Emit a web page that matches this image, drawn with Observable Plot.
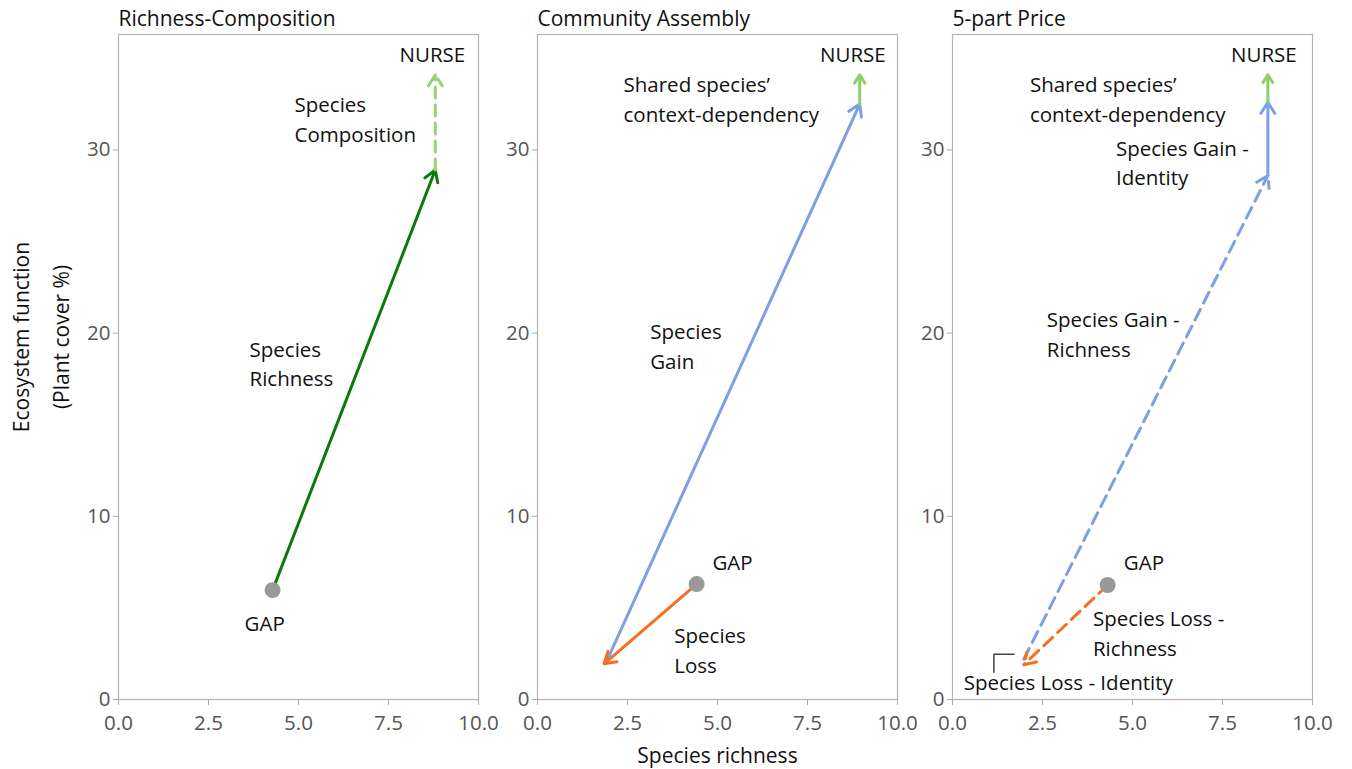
<!DOCTYPE html>
<html>
<head>
<meta charset="utf-8">
<script src="https://cdn.jsdelivr.net/npm/d3@7"></script>
<script src="https://cdn.jsdelivr.net/npm/@observablehq/plot@0.6"></script>
<style>
  body { margin: 0; background: white; }
  #wrap { position: relative; width: 1352px; height: 769px; overflow: hidden; background: white; }
  #wrap svg { position: absolute; top: 0; }
</style>
</head>
<body>
<div id="wrap"></div>
<script>
// ---- data ----
const panelTitles = ["Richness-Composition", "Community Assembly", "5-part Price"];
const xTicks = [0, 2.5, 5, 7.5, 10];
const yTicks = [0, 10, 20, 30];
const gapPoints = [
  {panel: 0, x: 4.28, y: 5.97},
  {panel: 1, x: 4.42, y: 6.3},
  {panel: 2, x: 4.31, y: 6.25}
];
// arrows: component vectors from GAP to NURSE
const arrows1 = [
  {x1: 4.28, y1: 5.97, x2: 8.8, y2: 28.9, comp: "richness"},
  {x1: 8.8, y1: 28.9, x2: 8.8, y2: 34.1, comp: "composition"}
];
const arrows2 = [
  {x1: 1.9, y1: 2.0, x2: 8.95, y2: 32.5, comp: "gain"},
  {x1: 4.42, y1: 6.3, x2: 1.85, y2: 1.95, comp: "loss"},
  {x1: 8.95, y1: 32.5, x2: 8.95, y2: 34.1, comp: "context"}
];
const arrows3 = [
  {x1: 1.98, y1: 2.2, x2: 8.76, y2: 28.6, comp: "gainRichness"},
  {x1: 8.76, y1: 28.6, x2: 8.76, y2: 32.6, comp: "gainIdentity"},
  {x1: 8.76, y1: 32.6, x2: 8.76, y2: 34.1, comp: "context"},
  {x1: 4.31, y1: 6.25, x2: 1.98, y2: 1.9, comp: "lossRichness"}
];
const leader3 = [{x: 1.15, y: 1.49}, {x: 1.15, y: 2.47}, {x: 1.71, y: 2.47}];
const labels1 = [
  {x: 8.72, y: 35.3, text: "NURSE", anchor: "middle"},
  {x: 4.89, y: 31.76, text: "Species\nComposition", anchor: "start"},
  {x: 3.64, y: 18.42, text: "Species\nRichness", anchor: "start"},
  {x: 4.06, y: 4.28, text: "GAP", anchor: "middle"}
];
const labels2 = [
  {x: 8.76, y: 35.3, text: "NURSE", anchor: "middle"},
  {x: 2.39, y: 32.87, text: "Shared species’\ncontext-dependency", anchor: "start"},
  {x: 3.13, y: 19.38, text: "Species\nGain", anchor: "start"},
  {x: 4.86, y: 7.61, text: "GAP", anchor: "start"},
  {x: 3.80, y: 2.77, text: "Species\nLoss", anchor: "start"}
];
const labels3 = [
  {x: 8.65, y: 35.3, text: "NURSE", anchor: "middle"},
  {x: 2.15, y: 32.87, text: "Shared species’\ncontext-dependency", anchor: "start"},
  {x: 4.54, y: 29.4, text: "Species Gain -\nIdentity", anchor: "start"},
  {x: 2.62, y: 20.03, text: "Species Gain -\nRichness", anchor: "start"},
  {x: 4.76, y: 7.61, text: "GAP", anchor: "start"},
  {x: 3.9, y: 3.70, text: "Species Loss -\nRichness", anchor: "start"},
  {x: 0.31, y: 1.05, text: "Species Loss - Identity", anchor: "start"}
];

// ---- styles ----
const compStyle = {
  richness: {stroke: "#0b7a0b", dash: null},
  composition: {stroke: "#96d375", dash: "11,7"},
  gain: {stroke: "#7da0e3", dash: null},
  loss: {stroke: "#f47020", dash: null},
  context: {stroke: "#8ccf6a", dash: null},
  gainRichness: {stroke: "#7da0e3", dash: "12,7"},
  gainIdentity: {stroke: "#7da0e3", dash: null},
  lossRichness: {stroke: "#f47020", dash: "12,7"}
};
const FONT = "'Open Sans', sans-serif";
const frameLefts = [118, 537, 952];
const plotW = 360;

function panel(i, arrows, labels, extra) {
  const mL = i === 0 ? 118 : 60;
  const mR = 30;
  const marks = [
    Plot.frame({stroke: "#b4b4b4", strokeWidth: 1.2}),
    Plot.axisX(xTicks, {tickSize: 6, tickFormat: () => "", stroke: "#aaa", label: null}),
    Plot.axisY(yTicks, {tickSize: 5, tickFormat: () => "", stroke: "#aaa", label: null}),
    Plot.text(xTicks, {x: d => d, frameAnchor: "bottom", text: d3.format(".1f"), dy: 24, fontSize: 20.5, fill: "#555", lineAnchor: "middle"}),
    Plot.text(yTicks, {y: d => d, frameAnchor: "left", text: d => String(d), dx: -8, fontSize: 20.5, fill: "#555", textAnchor: "end", lineAnchor: "middle"}),
    Plot.text([panelTitles[i]], {frameAnchor: "top-left", text: d => d, dy: -15, fontSize: 21, fill: "#111", textAnchor: "start", lineAnchor: "middle"})
  ];
  for (const a of arrows) {
    const s = compStyle[a.comp];
    marks.push(Plot.arrow([a], {x1: "x1", y1: "y1", x2: "x2", y2: "y2", stroke: s.stroke, strokeWidth: 3, headLength: 6.5, headAngle: 64, strokeDasharray: s.dash || undefined}));
  }
  if (extra) marks.push(...extra);
  marks.push(Plot.dot(gapPoints.filter(d => d.panel === i), {x: "x", y: "y", r: 8, fill: "#999", stroke: "none"}));
  for (const l of labels) {
    marks.push(Plot.text([l], {x: "x", y: "y", text: "text", textAnchor: l.anchor, lineAnchor: "middle", lineHeight: 1.45, fontSize: 20.5, fill: "#111"}));
  }
  if (i === 0) {
    marks.push(Plot.text(["Ecosystem function\n(Plant cover %)"], {frameAnchor: "left", text: d => d, rotate: -90, textAnchor: "middle", dx: -82, dy: -30, lineHeight: 1.9, fontSize: 21, fill: "#111", lineAnchor: "middle"}));
  }
  if (i === 1) {
    marks.push(Plot.text(["Species richness"], {frameAnchor: "bottom", text: d => d, dy: 57, fontSize: 21, fill: "#111", lineAnchor: "middle"}));
  }
  const svg = Plot.plot({
    width: mL + plotW + mR,
    height: 740,
    marginLeft: mL,
    marginRight: mR,
    marginTop: 34,
    marginBottom: 41,
    x: {domain: [0, 10]},
    y: {domain: [0, 36.3]},
    style: {fontFamily: FONT, background: "transparent", overflow: "visible"},
    marks
  });
  svg.style.left = (frameLefts[i] - mL) + "px";
  document.getElementById("wrap").appendChild(svg);
}

panel(0, arrows1, labels1);
panel(1, arrows2, labels2);
panel(2, arrows3, labels3, [Plot.line(leader3, {x: "x", y: "y", stroke: "#444", strokeWidth: 1.5})]);
</script>
</body>
</html>
